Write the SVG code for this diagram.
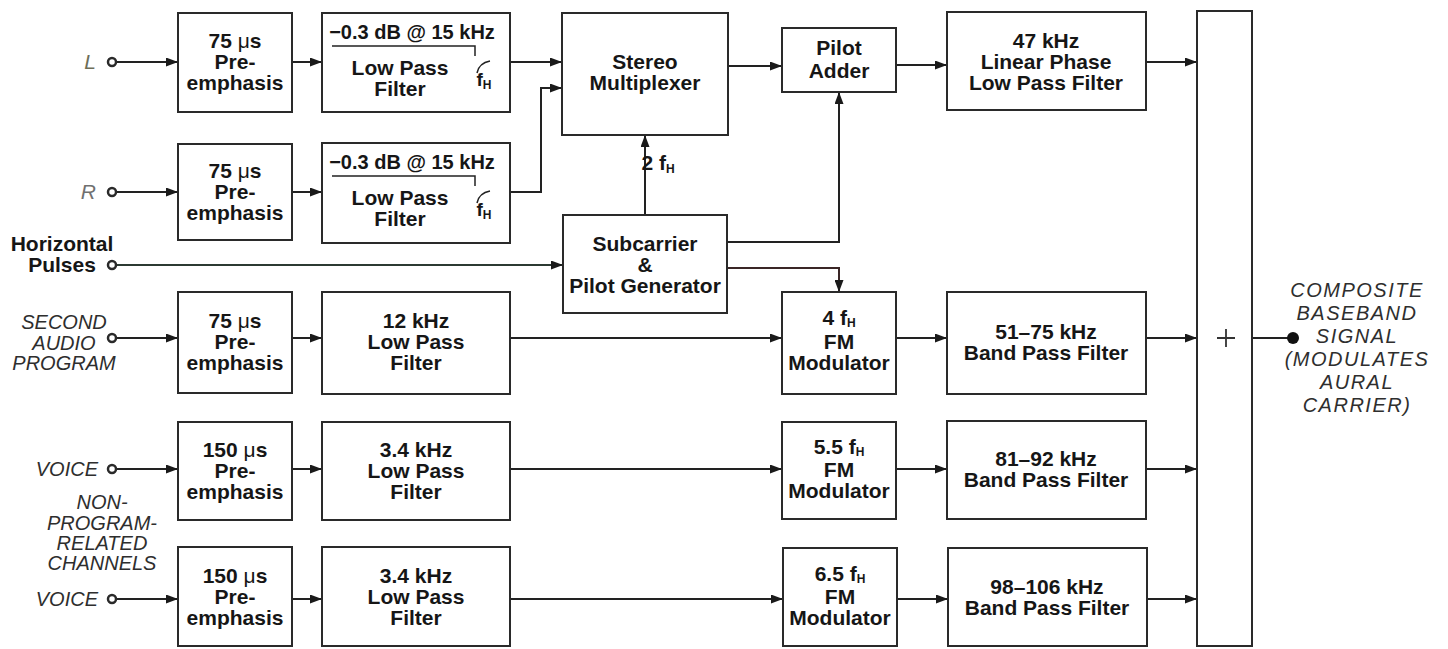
<svg xmlns="http://www.w3.org/2000/svg" width="1448" height="649" viewBox="0 0 1448 649">
<style>
.box{fill:#fff;stroke:#2a2a2a;stroke-width:2}
.t{font-family:"Liberation Sans",Arial,sans-serif;font-weight:bold;font-size:21px;fill:#161616;text-anchor:middle}
.it{font-family:"Liberation Sans",Arial,sans-serif;font-style:italic;font-size:20px;fill:#2e2e2e}
.w{stroke:#222;stroke-width:2;fill:none}
.a{marker-end:url(#arr)}
.mu{font-weight:normal}
.sub{font-size:12px}
.pin{fill:#fff;stroke:#2a2a2a;stroke-width:2.5}
</style>
<defs>
<marker id="arr" markerUnits="userSpaceOnUse" markerWidth="12" markerHeight="9" refX="12" refY="4.5" orient="auto">
<path d="M0,0 L12,4.5 L0,9 z" fill="#1a1a1a"/>
</marker>
</defs>
<rect width="1448" height="649" fill="#fff"/>

<g id="inputs">
<text class="it" x="96" y="69" text-anchor="end" style="fill:#6e6e58;font-size:21px">L</text>
<text class="it" x="96" y="199" text-anchor="end" style="fill:#707070;font-size:21px">R</text>
<text class="t" x="62" y="251">Horizontal</text>
<text class="t" x="62" y="272">Pulses</text>
<text class="it" x="64" y="329" text-anchor="middle">SECOND</text>
<text class="it" x="64" y="350" text-anchor="middle">AUDIO</text>
<text class="it" x="64" y="370" text-anchor="middle">PROGRAM</text>
<text class="it" x="98" y="476" text-anchor="end">VOICE</text>
<text class="it" x="102" y="509" text-anchor="middle">NON-</text>
<text class="it" x="102" y="530" text-anchor="middle">PROGRAM-</text>
<text class="it" x="102" y="550" text-anchor="middle">RELATED</text>
<text class="it" x="102" y="570" text-anchor="middle">CHANNELS</text>
<text class="it" x="98" y="606" text-anchor="end">VOICE</text>
</g>

<g id="connectors">
<path class="w a" d="M116,62 H178"/>
<path class="w a" d="M292,62 H322"/>
<path class="w a" d="M510,62 H562"/>
<path class="w a" d="M116,192 H178"/>
<path class="w a" d="M292,192 H322"/>
<path class="w a" d="M510,192 H541 V88 H562"/>
<path class="w a" d="M116,265 H563" style="stroke:#2c3a33"/>
<path class="w a" d="M645,215 V135"/>
<path class="w a" d="M727,242 H839 V92"/>
<path class="w a" d="M727,268 H839 V292" style="stroke:#3a2626"/>
<path class="w a" d="M728,66 H782"/>
<path class="w a" d="M896,65 H947"/>
<path class="w a" d="M1146,62 H1197"/>
<path class="w a" d="M116,338 H178"/>
<path class="w a" d="M292,338 H322"/>
<path class="w a" d="M510,338 H782"/>
<path class="w a" d="M896,338 H947"/>
<path class="w a" d="M1146,338 H1197"/>
<path class="w a" d="M116,469 H178"/>
<path class="w a" d="M292,469 H322"/>
<path class="w a" d="M510,469 H782"/>
<path class="w a" d="M896,469 H947"/>
<path class="w a" d="M1146,469 H1197"/>
<path class="w a" d="M116,599 H178"/>
<path class="w a" d="M292,599 H322"/>
<path class="w a" d="M510,599 H783"/>
<path class="w a" d="M897,599 H948"/>
<path class="w a" d="M1147,599 H1197"/>
<path class="w" d="M1252,338 H1290"/>
<text class="t" x="658" y="170" text-anchor="start">2 f<tspan class="sub" dy="3">H</tspan></text>
<circle class="pin" cx="112" cy="62" r="4"/>
<circle class="pin" cx="112" cy="192" r="4"/>
<circle class="pin" cx="112" cy="265" r="4"/>
<circle class="pin" cx="112" cy="338" r="4"/>
<circle class="pin" cx="112" cy="469" r="4"/>
<circle class="pin" cx="112" cy="599" r="4"/>
</g>

<g id="preL">
<rect class="box" x="178" y="13" width="114" height="99"/>
<text class="t" x="235" y="48">75 <tspan class="mu">μ</tspan>s</text>
<text class="t" x="235" y="69">Pre-</text>
<text class="t" x="235" y="90">emphasis</text>
</g>
<g id="lpfL">
<rect class="box" x="322" y="13" width="188" height="99"/>
<text class="t" x="412" y="39" style="font-size:20px">−0.3 dB @ 15 kHz</text>
<path class="w" d="M332,46 H475 V56" style="stroke-width:1.5"/>
<path class="w" d="M490,61 Q479,63 477,73" style="stroke-width:1.5"/>
<text class="t" x="400" y="75">Low Pass</text>
<text class="t" x="400" y="96">Filter</text>
<text class="t" x="484" y="86" text-anchor="start" style="font-size:19px">f<tspan class="sub" dy="3">H</tspan></text>
</g>

<g id="preR">
<rect class="box" x="178" y="144" width="114" height="96"/>
<text class="t" x="235" y="178">75 <tspan class="mu">μ</tspan>s</text>
<text class="t" x="235" y="199">Pre-</text>
<text class="t" x="235" y="220">emphasis</text>
</g>
<g id="lpfR">
<rect class="box" x="322" y="143" width="188" height="100"/>
<text class="t" x="412" y="169" style="font-size:20px">−0.3 dB @ 15 kHz</text>
<path class="w" d="M332,176 H475 V186" style="stroke-width:1.5"/>
<path class="w" d="M490,191 Q479,193 477,203" style="stroke-width:1.5"/>
<text class="t" x="400" y="205">Low Pass</text>
<text class="t" x="400" y="226">Filter</text>
<text class="t" x="484" y="216" text-anchor="start" style="font-size:19px">f<tspan class="sub" dy="3">H</tspan></text>
</g>

<g id="mux">
<rect class="box" x="562" y="13" width="166" height="122"/>
<text class="t" x="645" y="69">Stereo</text>
<text class="t" x="645" y="90">Multiplexer</text>
</g>
<g id="subcarrier">
<rect class="box" x="563" y="215" width="164" height="98"/>
<text class="t" x="645" y="251">Subcarrier</text>
<text class="t" x="645" y="272">&amp;</text>
<text class="t" x="645" y="293">Pilot Generator</text>
</g>
<g id="pilotAdder">
<rect class="box" x="782" y="28" width="114" height="64"/>
<text class="t" x="839" y="55">Pilot</text>
<text class="t" x="839" y="78">Adder</text>
</g>
<g id="lpf47">
<rect class="box" x="947" y="12" width="199" height="98"/>
<text class="t" x="1046" y="48">47 kHz</text>
<text class="t" x="1046" y="69">Linear Phase</text>
<text class="t" x="1046" y="90">Low Pass Filter</text>
</g>

<g id="preSAP">
<rect class="box" x="178" y="292" width="114" height="101"/>
<text class="t" x="235" y="328">75 <tspan class="mu">μ</tspan>s</text>
<text class="t" x="235" y="349">Pre-</text>
<text class="t" x="235" y="370">emphasis</text>
</g>
<g id="lpf12">
<rect class="box" x="322" y="292" width="188" height="102"/>
<text class="t" x="416" y="328">12 kHz</text>
<text class="t" x="416" y="349">Low Pass</text>
<text class="t" x="416" y="370">Filter</text>
</g>
<g id="mod4">
<rect class="box" x="782" y="292" width="114" height="102"/>
<text class="t" x="839" y="325">4 f<tspan class="sub" dy="2">H</tspan></text>
<text class="t" x="839" y="349">FM</text>
<text class="t" x="839" y="370">Modulator</text>
</g>
<g id="bpf51">
<rect class="box" x="947" y="292" width="199" height="102"/>
<text class="t" x="1046" y="339">51–75 kHz</text>
<text class="t" x="1046" y="360">Band Pass Filter</text>
</g>

<g id="preV1">
<rect class="box" x="178" y="422" width="114" height="98"/>
<text class="t" x="235" y="457">150 <tspan class="mu">μ</tspan>s</text>
<text class="t" x="235" y="478">Pre-</text>
<text class="t" x="235" y="499">emphasis</text>
</g>
<g id="lpfV1">
<rect class="box" x="322" y="422" width="188" height="98"/>
<text class="t" x="416" y="457">3.4 kHz</text>
<text class="t" x="416" y="478">Low Pass</text>
<text class="t" x="416" y="499">Filter</text>
</g>
<g id="mod55">
<rect class="box" x="782" y="422" width="114" height="97"/>
<text class="t" x="839" y="454">5.5 f<tspan class="sub" dy="2">H</tspan></text>
<text class="t" x="839" y="477">FM</text>
<text class="t" x="839" y="498">Modulator</text>
</g>
<g id="bpf81">
<rect class="box" x="947" y="421" width="199" height="98"/>
<text class="t" x="1046" y="466">81–92 kHz</text>
<text class="t" x="1046" y="487">Band Pass Filter</text>
</g>

<g id="preV2">
<rect class="box" x="178" y="547" width="114" height="99"/>
<text class="t" x="235" y="583">150 <tspan class="mu">μ</tspan>s</text>
<text class="t" x="235" y="604">Pre-</text>
<text class="t" x="235" y="625">emphasis</text>
</g>
<g id="lpfV2">
<rect class="box" x="322" y="547" width="188" height="99"/>
<text class="t" x="416" y="583">3.4 kHz</text>
<text class="t" x="416" y="604">Low Pass</text>
<text class="t" x="416" y="625">Filter</text>
</g>
<g id="mod65">
<rect class="box" x="783" y="548" width="114" height="98"/>
<text class="t" x="840" y="581">6.5 f<tspan class="sub" dy="2">H</tspan></text>
<text class="t" x="840" y="604">FM</text>
<text class="t" x="840" y="625">Modulator</text>
</g>
<g id="bpf98">
<rect class="box" x="948" y="548" width="199" height="98"/>
<text class="t" x="1047" y="594">98–106 kHz</text>
<text class="t" x="1047" y="615">Band Pass Filter</text>
</g>

<g id="summer">
<rect class="box" x="1197" y="11" width="55" height="635"/>
<path d="M1217,338 H1235 M1226,329 V347" stroke="#333" stroke-width="1.8" fill="none"/>
</g>

<g id="output">
<circle cx="1293" cy="338" r="6" fill="#111"/>
<text class="it" x="1357" y="297" text-anchor="middle" style="letter-spacing:1.5px">COMPOSITE</text>
<text class="it" x="1357" y="320" text-anchor="middle" style="letter-spacing:1.5px">BASEBAND</text>
<text class="it" x="1357" y="343" text-anchor="middle" style="letter-spacing:1.5px">SIGNAL</text>
<text class="it" x="1357" y="366" text-anchor="middle" style="letter-spacing:1.5px">(MODULATES</text>
<text class="it" x="1357" y="389" text-anchor="middle" style="letter-spacing:1.5px">AURAL</text>
<text class="it" x="1357" y="412" text-anchor="middle" style="letter-spacing:1.5px">CARRIER)</text>
</g>
</svg>
